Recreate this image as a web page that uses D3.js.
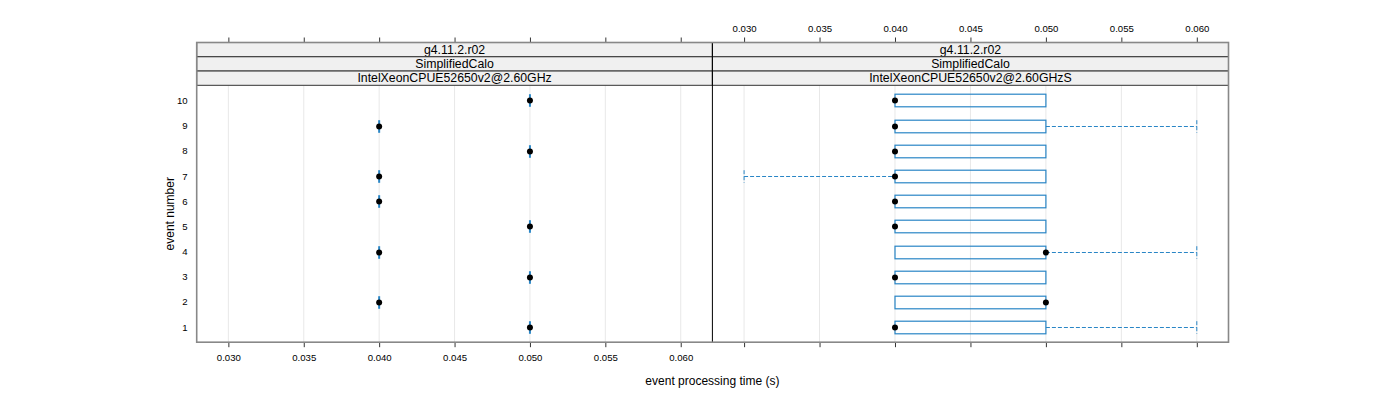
<!DOCTYPE html>
<html><head><meta charset="utf-8">
<script src="https://cdn.jsdelivr.net/npm/d3@7"></script>
<style>body{margin:0;background:#fff}svg{display:block;font-family:"Liberation Sans",Arial,sans-serif}</style>
</head><body><svg id="c" width="1400" height="400"></svg>
<script>
// ---- data ----
const events = [1,2,3,4,5,6,7,8,9,10];
const xTicks = [0.030,0.035,0.040,0.045,0.050,0.055,0.060];
const xTickLabels = ["0.030","0.035","0.040","0.045","0.050","0.055","0.060"];
const stripLevel1 = ["g4.11.2.r02","g4.11.2.r02"];
const stripLevel2 = ["SimplifiedCalo","SimplifiedCalo"];
const stripLevel3 = ["IntelXeonCPUE52650v2@2.60GHz","IntelXeonCPUE52650v2@2.60GHzS"];
// panel 1 (per event: min, q1, median, q3, max)
const p1Min    = [0.05,0.04,0.05,0.04,0.05,0.04,0.04,0.05,0.04,0.05];
const p1Q1     = [0.05,0.04,0.05,0.04,0.05,0.04,0.04,0.05,0.04,0.05];
const p1Median = [0.05,0.04,0.05,0.04,0.05,0.04,0.04,0.05,0.04,0.05];
const p1Q3     = [0.05,0.04,0.05,0.04,0.05,0.04,0.04,0.05,0.04,0.05];
const p1Max    = [0.05,0.04,0.05,0.04,0.05,0.04,0.04,0.05,0.04,0.05];
// panel 2
const p2Min    = [0.04,0.04,0.04,0.04,0.04,0.04,0.03,0.04,0.04,0.04];
const p2Q1     = [0.04,0.04,0.04,0.04,0.04,0.04,0.04,0.04,0.04,0.04];
const p2Median = [0.04,0.05,0.04,0.05,0.04,0.04,0.04,0.04,0.04,0.04];
const p2Q3     = [0.05,0.05,0.05,0.05,0.05,0.05,0.05,0.05,0.05,0.05];
const p2Max    = [0.06,0.05,0.05,0.06,0.05,0.05,0.05,0.05,0.06,0.05];
const xLabel = "event processing time (s)";
const yLabel = "event number";

// ---- layout ----
const svg = d3.select("#c");
const plotTop = 85.3, plotBottom = 342.2;
const stripTop = 42.5, stripH = (plotTop - stripTop)/3;
const panels = [
  {x0:196.7, x1:712.4, min:p1Min, q1:p1Q1, med:p1Median, q3:p1Q3, max:p1Max, i:0},
  {x0:712.4, x1:1228.5, min:p2Min, q1:p2Q1, med:p2Median, q3:p2Q3, max:p2Max, i:1}
];
const blue = "#2a86c6";
const y = d3.scaleLinear().domain([0.4,10.6]).range([plotBottom, plotTop]);
const boxH = (y(0) - y(0.5));
const FONT = "Liberation Sans, Arial, sans-serif";

panels.forEach(p => {
  const x = d3.scaleLinear().domain([0.0279,0.0621]).range([p.x0, p.x1]);
  const g = svg.append("g");
  // grid
  g.selectAll(".grid").data(xTicks).join("line")
    .attr("x1", d=>x(d)).attr("x2", d=>x(d)).attr("y1", plotTop).attr("y2", plotBottom)
    .attr("stroke", "#e8e8e8").attr("stroke-width", 1);
  events.forEach((e, k) => {
    const yc = Math.round(y(e)) + 0.5;
    const dashed = (x1, x2, y1, y2) => g.append("line").attr("x1", x1).attr("x2", x2).attr("y1", y1).attr("y2", y2)
        .attr("stroke", blue).attr("stroke-width", 1).attr("stroke-dasharray", "4,2");
    if (p.min[k] < p.q1[k]) {
      dashed(x(p.min[k]), x(p.q1[k]), yc, yc);
      dashed(x(p.min[k]), x(p.min[k]), yc-boxH/2, yc+boxH/2);
    }
    if (p.max[k] > p.q3[k]) {
      dashed(x(p.q3[k]), x(p.max[k]), yc, yc);
      dashed(x(p.max[k]), x(p.max[k]), yc-boxH/2, yc+boxH/2);
    }
    const w = x(p.q3[k]) - x(p.q1[k]);
    if (w > 0.5) {
      g.append("rect").attr("x", x(p.q1[k])).attr("width", w)
        .attr("y", yc - boxH/2).attr("height", boxH)
        .attr("fill", "none").attr("stroke", blue).attr("stroke-width", 1.2);
    } else {
      g.append("line").attr("x1", x(p.q1[k])).attr("x2", x(p.q1[k]))
        .attr("y1", yc - boxH/2).attr("y2", yc + boxH/2)
        .attr("stroke", blue).attr("stroke-width", 2);
    }
    g.append("circle").attr("cx", x(p.med[k])).attr("cy", yc).attr("r", 3).attr("fill", "#000");
  });
  // strips
  [stripLevel1, stripLevel2, stripLevel3].forEach((lev, r) => {
    const sy = stripTop + r*stripH;
    svg.append("rect").attr("x", p.x0).attr("y", sy).attr("width", p.x1-p.x0).attr("height", stripH)
      .attr("fill", "#f0f0f0").attr("stroke", "#333").attr("stroke-width", 1);
    svg.append("text").attr("x", (p.x0+p.x1)/2).attr("y", sy + stripH/2 + 4.3)
      .attr("text-anchor", "middle").attr("font-size", 12.3).attr("fill", "#000").text(lev[p.i]);
  });
  // ticks top and bottom
  const tb = svg.append("g").attr("transform", `translate(0,${plotBottom})`)
    .call(d3.axisBottom(x).tickValues(xTicks).tickSize(5).tickPadding(7)
      .tickFormat((d,i)=> p.i===0 ? xTickLabels[i] : ""));
  const tt = svg.append("g").attr("transform", `translate(0,${stripTop})`)
    .call(d3.axisTop(x).tickValues(xTicks).tickSize(5).tickPadding(6)
      .tickFormat((d,i)=> p.i===1 ? xTickLabels[i] : ""));
  [tb, tt].forEach(a => {
    a.select(".domain").remove();
    a.selectAll(".tick line").attr("stroke", "#000").attr("stroke-width", 0.8);
    a.selectAll("text").attr("font-size", 9.6).attr("font-family", FONT).attr("fill", "#000");
  });
});

// separator between panels
svg.append("line").attr("x1", 712.4).attr("x2", 712.4).attr("y1", stripTop).attr("y2", plotBottom)
  .attr("stroke", "#000").attr("stroke-width", 1);
// outer frame
svg.append("rect").attr("x", 196.7).attr("y", stripTop).attr("width", 1228.5-196.7).attr("height", plotBottom-stripTop)
  .attr("fill", "none").attr("stroke", "#888").attr("stroke-width", 1.6);

// y axis
const ya = svg.append("g").attr("transform", `translate(196.7,0)`)
  .call(d3.axisLeft(y).tickValues(events).tickSize(0).tickPadding(9).tickFormat(d3.format("d")));
ya.select(".domain").remove();
ya.selectAll("text").attr("font-size", 9.6).attr("font-family", FONT).attr("fill", "#000");

// titles
svg.append("text").attr("x", 712.4).attr("y", 385).attr("text-anchor", "middle")
  .attr("font-size", 12).text(xLabel);
svg.append("text").attr("transform", `translate(174,${(plotTop+plotBottom)/2}) rotate(-90)`)
  .attr("text-anchor", "middle").attr("font-size", 12).text(yLabel);
</script></body></html>
